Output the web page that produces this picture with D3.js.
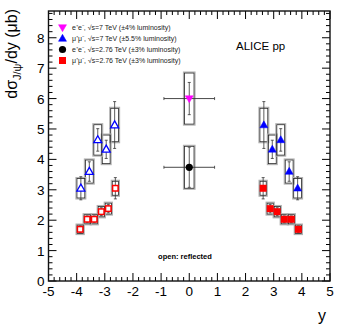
<!DOCTYPE html>
<html>
<head>
<meta charset="utf-8">
<script src="https://cdn.jsdelivr.net/npm/d3@7"></script>
<style>
  body { margin: 0; background: #fff; }
  text { font-family: "Liberation Sans", Arial, sans-serif; }
</style>
</head>
<body>
<svg id="chart"></svg>
<script>
// muon channel, sqrt(s)=7 TeV (forward rapidity)
const Y_MU7 = [2.65, 2.95, 3.25, 3.55, 3.85];
const XS_MU7 = [5.13, 4.33, 4.64, 3.60, 3.05];
const STAT_MU7 = [0.77, 0.30, 0.37, 0.32, 0.38];
const SYS_MU7 = [0.55, 0.47, 0.50, 0.38, 0.32];

// muon channel, sqrt(s)=2.76 TeV
const Y_MU276 = [2.625, 2.875, 3.125, 3.375, 3.625, 3.875];
const XS_MU276 = [3.05, 2.38, 2.28, 2.03, 2.03, 1.70];
const STAT_MU276 = [0.35, 0.14, 0.13, 0.11, 0.11, 0.11];
const SYS_MU276 = [0.23, 0.18, 0.17, 0.15, 0.15, 0.14];

// electron channel, mid rapidity
const Y_EE = [0, 0];
const XS_EE = [6.00, 3.74];
const STAT_EE = [0.53, 0.66];
const SYS_EE = [0.84, 0.69];
const XERR_EE = 0.9;

const X_TICKS = [-5, -4, -3, -2, -1, 0, 1, 2, 3, 4, 5];
const Y_TICKS = [0, 1, 2, 3, 4, 5, 6, 7, 8];

const LEGEND = [
  {label: "e\u207Ae\u207B, \u221As=7 TeV (\u00B14% luminosity)", kind: "tridown", color: "#ff00ff"},
  {label: "\u03BC\u207A\u03BC\u207B, \u221As=7 TeV (\u00B15.5% luminosity)", kind: "triup", color: "#0000ff"},
  {label: "e\u207Ae\u207B, \u221As=2.76 TeV (\u00B13% luminosity)", kind: "circle", color: "#000"},
  {label: "\u03BC\u207A\u03BC\u207B, \u221As=2.76 TeV (\u00B13% luminosity)", kind: "square", color: "#ff0000"}
];

const W = 341, H = 327;
const MARGIN = {top: 11, right: 11, bottom: 46, left: 48.5};

const svg = d3.select("#chart").attr("width", W).attr("height", H);
const x = d3.scaleLinear().domain([-5, 5]).range([MARGIN.left, W - MARGIN.right]);
const y = d3.scaleLinear().domain([0, 8.88]).range([H - MARGIN.bottom, MARGIN.top]);

const plot = svg.append("g");

/*
  Draws the systematic box (grey outer + black inner) and the stat error bar.
*/
const drawErrors = (cx, cy, stat, sys, halfW) => {
  let x0 = x(cx - halfW), x1 = x(cx + halfW);
  plot.append("rect")
      .attr("x", x0 - 1).attr("y", y(cy + sys) - 1)
      .attr("width", x1 - x0 + 2).attr("height", y(cy - sys) - y(cy + sys) + 2)
      .attr("fill", "none").attr("stroke", "#b0b0b0").attr("stroke-width", 1.1);
  plot.append("rect")
      .attr("x", x0).attr("y", y(cy + sys))
      .attr("width", x1 - x0).attr("height", y(cy - sys) - y(cy + sys))
      .attr("fill", "none").attr("stroke", "#222").attr("stroke-width", 0.8);
  plot.append("line")
      .attr("x1", x(cx)).attr("x2", x(cx))
      .attr("y1", y(cy + stat)).attr("y2", y(cy - stat))
      .attr("stroke", "#333").attr("stroke-width", 0.8);
  [cy + stat, cy - stat].forEach(v => {
    plot.append("line")
        .attr("x1", x(cx) - 1.5).attr("x2", x(cx) + 1.5)
        .attr("y1", y(v)).attr("y2", y(v))
        .attr("stroke", "#333").attr("stroke-width", 0.8);
  });
}

const trianglePath = (size, up) => {
  let h = size * 0.87;
  return up ? `M0,${-h*0.6}L${size/2},${h*0.4}L${-size/2},${h*0.4}Z`
            : `M0,${h*0.6}L${size/2},${-h*0.4}L${-size/2},${-h*0.4}Z`;
}

const drawMarker = (g, px, py, kind, color, open) => {
  let fill = open ? "#fff" : color;
  if (kind === "triup" || kind === "tridown") {
    g.append("path").attr("d", trianglePath(8, kind === "triup"))
     .attr("transform", `translate(${px},${py})`)
     .attr("fill", fill).attr("stroke", color).attr("stroke-width", open ? 1.3 : 0.5);
  } else if (kind === "square") {
    let s = open ? 5.5 : 7;
    g.append("rect").attr("x", px - s/2).attr("y", py - s/2)
     .attr("width", s).attr("height", s)
     .attr("fill", fill).attr("stroke", color).attr("stroke-width", open ? 1.5 : 0);
  } else {
    g.append("circle").attr("cx", px).attr("cy", py).attr("r", 3.6).attr("fill", fill);
  }
}

// forward data and reflected (open) copies
[1, -1].forEach(sign => {
  Y_MU7.forEach((v, i) => drawErrors(sign * v, XS_MU7[i], STAT_MU7[i], SYS_MU7[i], 0.14));
  Y_MU276.forEach((v, i) => drawErrors(sign * v, XS_MU276[i], STAT_MU276[i], SYS_MU276[i], 0.11));
});

// electron channel
Y_EE.forEach((v, i) => {
  drawErrors(v, XS_EE[i], STAT_EE[i], SYS_EE[i], 0.17);
  plot.append("line")
      .attr("x1", x(v - XERR_EE)).attr("x2", x(v + XERR_EE))
      .attr("y1", y(XS_EE[i])).attr("y2", y(XS_EE[i]))
      .attr("stroke", "#333").attr("stroke-width", 0.9);
  [v - XERR_EE, v + XERR_EE].forEach(e => {
    plot.append("line").attr("x1", x(e)).attr("x2", x(e))
        .attr("y1", y(XS_EE[i]) - 1.5).attr("y2", y(XS_EE[i]) + 1.5)
        .attr("stroke", "#333").attr("stroke-width", 0.8);
  });
});

[1, -1].forEach(sign => {
  Y_MU7.forEach((v, i) => drawMarker(plot, x(sign * v), y(XS_MU7[i]), "triup", "#0000ff", sign < 0));
  Y_MU276.forEach((v, i) => drawMarker(plot, x(sign * v), y(XS_MU276[i]), "square", "#ff0000", sign < 0));
});
drawMarker(plot, x(Y_EE[0]), y(XS_EE[0]), "tridown", "#ff00ff", false);
drawMarker(plot, x(Y_EE[1]), y(XS_EE[1]), "circle", "#000", false);

// frame and ticks: ROOT style, ticks inside on all four sides
const fBottom = H - MARGIN.bottom, fTop = MARGIN.top, fLeft = MARGIN.left, fRight = W - MARGIN.right;
const xMinor = x.ticks(50);
const yMinor = d3.range(0, 45).map(d => d / 5);
let ticks = svg.append("g").attr("stroke", "#000").attr("stroke-width", 1);

xMinor.forEach(v => {
  let len = Number.isInteger(v) ? 8 : 4;
  ticks.append("line").attr("x1", x(v)).attr("x2", x(v)).attr("y1", fBottom).attr("y2", fBottom - len);
  ticks.append("line").attr("x1", x(v)).attr("x2", x(v)).attr("y1", fTop).attr("y2", fTop + len);
});
yMinor.forEach(v => {
  let len = Math.abs(v - Math.round(v)) < 1e-6 ? 8 : 4;
  ticks.append("line").attr("y1", y(v)).attr("y2", y(v)).attr("x1", fLeft).attr("x2", fLeft + len);
  ticks.append("line").attr("y1", y(v)).attr("y2", y(v)).attr("x1", fRight).attr("x2", fRight - len);
});

svg.append("rect").attr("x", fLeft).attr("y", fTop)
   .attr("width", fRight - fLeft).attr("height", fBottom - fTop)
   .attr("fill", "none").attr("stroke", "#111").attr("stroke-width", 1.4);

svg.append("g").selectAll("text").data(X_TICKS).join("text")
   .attr("x", d => x(d)).attr("y", fBottom + 15)
   .attr("text-anchor", "middle").attr("font-size", 13.5).text(d => String(d));
svg.append("g").selectAll("text").data(Y_TICKS).join("text")
   .attr("x", fLeft - 4).attr("y", d => y(d) + 5)
   .attr("text-anchor", "end").attr("font-size", 13.5).text(d => String(d));

// axis titles
svg.append("text").attr("x", fRight - 4).attr("y", 321)
   .attr("text-anchor", "end").attr("font-size", 16).text("y");

let yTitle = svg.append("text")
   .attr("transform", `translate(17,9) rotate(-90)`)
   .attr("text-anchor", "end").attr("font-size", 16);
yTitle.append("tspan").text("d\u03C3");
yTitle.append("tspan").attr("font-size", 11).attr("dy", 4).text("J/\u03C8");
yTitle.append("tspan").attr("dy", -4).text("/dy (\u03BCb)");

// legend
let legend = svg.append("g");
LEGEND.forEach((d, i) => {
  let ly = 27.5 + i * 11;
  drawMarker(legend, 62.5, ly, d.kind, d.color, false);
  legend.append("text").attr("x", 72).attr("y", ly + 2.5)
        .attr("font-size", 7).attr("fill", "#222").text(d.label);
});

svg.append("text").attr("x", 236).attr("y", 50).attr("font-size", 11.5).text("ALICE pp");
svg.append("text").attr("x", 185).attr("y", 259).attr("text-anchor", "middle")
   .attr("font-size", 7.5).attr("font-weight", "bold").text("open: reflected");
</script>
</body>
</html>
